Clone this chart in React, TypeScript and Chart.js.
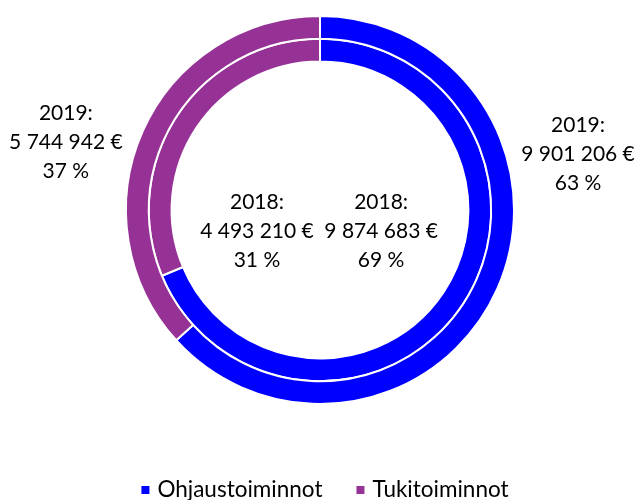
import React, { useEffect, useRef } from "react";
import { Chart, registerables } from "chart.js";

Chart.register(...registerables);

const categories = ["Ohjaustoiminnot", "Tukitoiminnot"];
const values2019 = [9901206, 5744942];
const values2018 = [9874683, 4493210];
const years = ["2019", "2018"];
const colors = ["#0000FF", "#963296"];

const FONT = "Lato, 'Noto Sans', sans-serif";

function fmtNum(n: number) {
  return String(n).replace(/\B(?=(\d{3})+(?!\d))/g, " ");
}

// label offsets relative to chart centre, as fraction of outer radius
const labelOffsets = [
  [[1.33, -0.29], [-1.31, -0.35]],
  [[0.315, 0.11], [-0.325, 0.11]],
];

const labelPlugin = {
  id: "labelPlugin",
  afterDraw(chart: any) {
    const ctx = chart.ctx;
    const meta0 = chart.getDatasetMeta(0);
    const arc = meta0.data[0];
    if (!arc) return;
    const cx = arc.x;
    const cy = arc.y;
    const R = arc.outerRadius;
    ctx.save();
    ctx.font = `21px ${FONT}`;
    ctx.fillStyle = "#000";
    ctx.textAlign = "center";
    ctx.textBaseline = "middle";
    const lh = 29;
    chart.data.datasets.forEach((ds: any, di: number) => {
      const total = ds.data.reduce((a: number, b: number) => a + b, 0);
      ds.data.forEach((v: number, i: number) => {
        const [fx, fy] = labelOffsets[di][i];
        const x = cx + fx * R;
        const y = cy + fy * R;
        const lines = [
          `${years[di]}:`,
          `${fmtNum(v)} €`,
          `${Math.round((v / total) * 100)} %`,
        ];
        lines.forEach((t, k) => ctx.fillText(t, x, y + (k - 1) * lh));
      });
    });
    // legend
    ctx.font = `22.5px ${FONT}`;
    ctx.textAlign = "left";
    const widths = categories.map((c) => ctx.measureText(c).width);
    const box = 8;
    const gapBoxText = 8;
    const gapItems = 34;
    const totalW =
      widths.reduce((a, b) => a + b, 0) + categories.length * (box + gapBoxText) + gapItems;
    let x = cx + 5 - totalW / 2;
    const ly = chart.height - 10;
    categories.forEach((c, i) => {
      ctx.fillStyle = colors[i];
      ctx.fillRect(x, ly - box / 2, box, box);
      x += box + gapBoxText;
      ctx.fillStyle = "#000";
      ctx.fillText(c, x, ly);
      x += widths[i] + gapItems;
    });
    ctx.restore();
  },
};

export default function App() {
  const ref = useRef<HTMLCanvasElement>(null);
  useEffect(() => {
    const prevMargin = document.body.style.margin;
    document.body.style.margin = "0";
    if (!ref.current) return;
    const chart = new Chart(ref.current, {
      type: "doughnut",
      data: {
        labels: categories,
        datasets: [
          { label: "2019", data: values2019, backgroundColor: colors, borderColor: "#fff", borderWidth: 2 },
          { label: "2018", data: values2018, backgroundColor: colors, borderColor: "#fff", borderWidth: 2 },
        ],
      },
      options: {
        animation: false,
        responsive: false,
        cutout: "76.5%",
        layout: { padding: { top: 15, bottom: 95, left: 2, right: 0 } },
        plugins: {
          legend: { display: false },
          tooltip: { enabled: false },
        },
      },
      plugins: [labelPlugin],
    });
    return () => {
      chart.destroy();
      document.body.style.margin = prevMargin;
    };
  }, []);
  return (
    <div style={{ width: 638, height: 500 }}>
      <canvas ref={ref} width={638} height={500} style={{ display: "block" }} />
    </div>
  );
}
